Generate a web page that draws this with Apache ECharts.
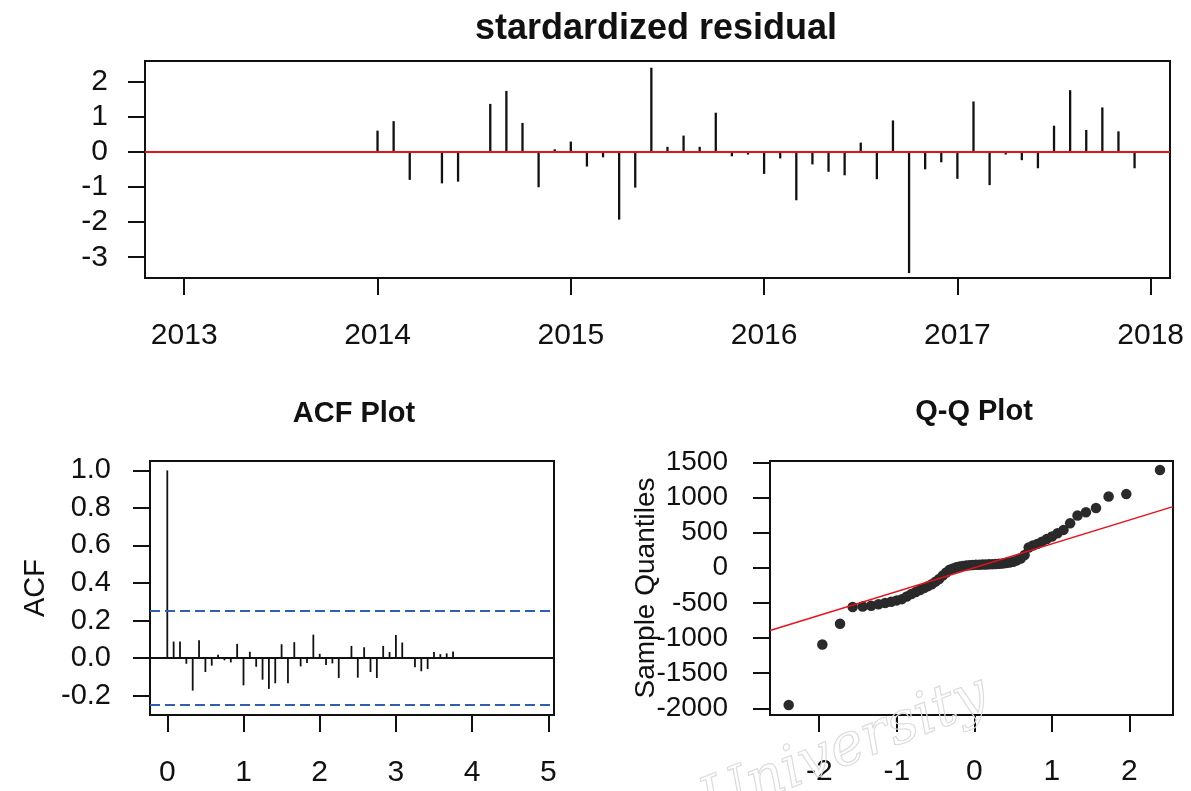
<!DOCTYPE html>
<html>
<head>
<meta charset="utf-8">
<title>Residual diagnostics</title>
<script src="https://cdn.jsdelivr.net/npm/echarts@6/dist/echarts.min.js"></script>
<style>
  html, body { margin: 0; padding: 0; background: #ffffff; }
  #chart { width: 1191px; height: 791px; }
</style>
</head>
<body>
<div id="chart"></div>
<script>
// ---- Standardized residuals, monthly, Jan 2014 - Dec 2017 ----
const residualMonths = [
  '2014-01','2014-02','2014-03','2014-04','2014-05','2014-06','2014-07','2014-08','2014-09','2014-10','2014-11','2014-12',
  '2015-01','2015-02','2015-03','2015-04','2015-05','2015-06','2015-07','2015-08','2015-09','2015-10','2015-11','2015-12',
  '2016-01','2016-02','2016-03','2016-04','2016-05','2016-06','2016-07','2016-08','2016-09','2016-10','2016-11','2016-12',
  '2017-01','2017-02','2017-03','2017-04','2017-05','2017-06','2017-07','2017-08','2017-09','2017-10','2017-11','2017-12'
];
const residualValues = [
  0.60, 0.87, -0.80, 0.00, -0.90, -0.85, 0.00, 1.36, 1.73, 0.82, -1.01, 0.07,
  0.29, -0.42, -0.16, -1.93, -1.02, 2.39, 0.14, 0.46, 0.14, 1.11, -0.13, -0.08,
  -0.63, -0.19, -1.38, -0.36, -0.57, -0.67, 0.26, -0.78, 0.89, -3.45, -0.50, -0.30,
  -0.77, 1.43, -0.95, -0.08, -0.24, -0.47, 0.74, 1.75, 0.62, 1.26, 0.58, -0.47
];
const yearTicks = [2013, 2014, 2015, 2016, 2017, 2018];
const residualTicks = [-3, -2, -1, 0, 1, 2];

// ---- Autocorrelation of the residuals, lags 0..45 months ----
const acfValues = [
  1.000, 0.088, 0.088, -0.030, -0.173, 0.095, -0.074, -0.040, 0.018, -0.012, -0.023, 0.076,
  -0.145, 0.034, -0.046, -0.115, -0.164, -0.134, 0.074, -0.134, 0.085, -0.044, -0.026, 0.125,
  0.023, -0.037, -0.028, -0.106, 0.000, 0.065, -0.104, 0.058, -0.074, -0.106, 0.065, 0.033,
  0.123, 0.083, 0.000, -0.048, -0.070, -0.058, 0.032, 0.021, 0.025, 0.035
];
const acfBound = 0.253;
const acfXTicks = [0, 1, 2, 3, 4, 5];
const acfYTicks = [-0.2, 0.0, 0.2, 0.4, 0.6, 0.8, 1.0];

// ---- Normal Q-Q: ordered sample quantiles ----
const sampleQuantiles = [
  -1953, -1091, -797, -560, -552, -540, -519, -501, -484, -465,
  -447, -410, -373, -346, -317, -290, -262, -235, -198, -161,
  -112, -67, -28, -11, 5, 18, 26, 32, 36, 39,
  41, 43, 45, 47, 49, 51, 53, 56, 60, 66,
  74, 86, 104, 130, 180, 288, 316, 339, 371, 408,
  445, 491, 538, 632, 744, 790, 849, 1013, 1047, 1391
];
const qqLineEnds = [[-2.635, -892], [2.562, 869]];
const qqXTicks = [-2, -1, 0, 1, 2];
const qqYTicks = [-2000, -1500, -1000, -500, 0, 500, 1000, 1500];

// ---- helpers ----
const FONT = '"Liberation Sans", Arimo, Arial, sans-serif';
const INK = '#111111';

// inverse standard normal CDF (Acklam's rational approximation)
function qnorm(p) {
  const a = [-39.69683028665376, 220.9460984245205, -275.9285104469687, 138.3577518672690, -30.66479806614716, 2.506628277459239];
  const b = [-54.47609879822406, 161.5858368580409, -155.6989798598866, 66.80131188771972, -13.28068155288572];
  const c = [-0.007784894002430293, -0.3223964580411365, -2.400758277161838, -2.549732539343734, 4.374664141464968, 2.938163982698783];
  const d = [0.007784695709041462, 0.3224671290700398, 2.445134137142996, 3.754408661907416];
  const pl = 0.02425;
  let q, r;
  if (p < pl) {
    q = Math.sqrt(-2 * Math.log(p));
    return (((((c[0]*q+c[1])*q+c[2])*q+c[3])*q+c[4])*q+c[5]) / ((((d[0]*q+d[1])*q+d[2])*q+d[3])*q+1);
  }
  if (p > 1 - pl) {
    q = Math.sqrt(-2 * Math.log(1 - p));
    return -(((((c[0]*q+c[1])*q+c[2])*q+c[3])*q+c[4])*q+c[5]) / ((((d[0]*q+d[1])*q+d[2])*q+d[3])*q+1);
  }
  q = p - 0.5; r = q * q;
  return (((((a[0]*r+a[1])*r+a[2])*r+a[3])*r+a[4])*r+a[5])*q / (((((b[0]*r+b[1])*r+b[2])*r+b[3])*r+b[4])*r+1);
}

// theoretical quantiles, plotting positions (i - 0.5) / n
const n = sampleQuantiles.length;
const qqPoints = sampleQuantiles.map((v, i) => [qnorm((i + 0.5) / n), v]);

const residualPoints = residualMonths.map((m, i) => {
  const [yy, mm] = m.split('-').map(Number);
  return [yy + (mm - 1) / 12, residualValues[i]];
});
const acfPoints = acfValues.map((v, lag) => [lag / 12, v]);

// vertical stem from 0 to the value
function stem(width) {
  return function (params, api) {
    const x = api.value(0), y = api.value(1);
    const p0 = api.coord([x, 0]);
    const p1 = api.coord([x, y]);
    return {
      type: 'line',
      shape: { x1: p0[0], y1: p0[1], x2: p1[0], y2: p1[1] },
      style: { stroke: INK, lineWidth: width }
    };
  };
}

function axis(gridIndex, min, max, ticks, fmt, labelSize, margin, extra) {
  return Object.assign({
    type: 'value',
    gridIndex: gridIndex,
    min: min,
    max: max,
    axisLine: { show: true, onZero: false, lineStyle: { color: INK, width: 2 } },
    axisTick: { show: true, inside: false, length: 17, customValues: ticks, lineStyle: { color: INK, width: 2 } },
    axisLabel: {
      customValues: ticks, formatter: fmt, fontSize: labelSize, margin: margin,
      color: INK, fontFamily: FONT, showMinLabel: true, showMaxLabel: true
    },
    splitLine: { show: false }
  }, extra || {});
}

const plain = v => String(v);
const oneDec = v => v.toFixed(1);

const boxStyle = { show: true, borderColor: INK, borderWidth: 2, backgroundColor: 'transparent' };

const option = {
  backgroundColor: '#ffffff',
  animation: false,
  title: [
    { text: 'stardardized residual', left: 651, top: 6, textAlign: 'center',
      textStyle: { fontSize: 36, fontWeight: 'bold', color: INK, fontFamily: FONT } },
    { text: 'ACF Plot', left: 349, top: 394, textAlign: 'center',
      textStyle: { fontSize: 29, fontWeight: 'bold', color: INK, fontFamily: FONT } },
    { text: 'Q-Q Plot', left: 969, top: 392, textAlign: 'center',
      textStyle: { fontSize: 29, fontWeight: 'bold', color: INK, fontFamily: FONT } }
  ],
  grid: [
    Object.assign({ left: 145, right: 21, top: 61, height: 217 }, boxStyle),
    Object.assign({ left: 150, width: 404, top: 461, height: 254 }, boxStyle),
    Object.assign({ left: 770, width: 403, top: 461, height: 254 }, boxStyle)
  ],
  xAxis: [
    axis(0, 2012.797, 2018.100, yearTicks, plain, 30, 43),
    axis(1, -0.227, 5.075, acfXTicks, plain, 30, 43),
    axis(2, -2.635, 2.562, qqXTicks, plain, 30, 42)
  ],
  yAxis: [
    axis(0, -3.59, 2.58, residualTicks, plain, 30, 37),
    axis(1, -0.303, 1.05, acfYTicks, oneDec, 29, 39, {
      name: 'ACF', nameLocation: 'middle', nameGap: 100, nameMoveOverlap: false,
      nameTextStyle: { fontSize: 29, color: INK, fontFamily: FONT }
    }),
    axis(2, -2095, 1518, qqYTicks, plain, 28, 42, {
      name: 'Sample Quantiles', nameLocation: 'middle', nameGap: 110, nameMoveOverlap: false,
      nameTextStyle: { fontSize: 28, color: INK, fontFamily: FONT }
    })
  ],
  series: [
    {
      name: 'residual', type: 'custom', xAxisIndex: 0, yAxisIndex: 0,
      data: residualPoints, renderItem: stem(2.3), clip: true, silent: true,
      markLine: {
        silent: true, symbol: ['none', 'none'], label: { show: false },
        lineStyle: { color: '#e8121c', width: 2.2, type: 'solid' },
        data: [{ yAxis: 0 }]
      }
    },
    {
      name: 'acf', type: 'custom', xAxisIndex: 1, yAxisIndex: 1,
      data: acfPoints, renderItem: stem(1.8), clip: true, silent: true,
      markLine: {
        silent: true, symbol: ['none', 'none'], label: { show: false },
        data: [
          { yAxis: 0, lineStyle: { color: INK, width: 2, type: 'solid' } },
          { yAxis: acfBound, lineStyle: { color: '#2f5fb3', width: 2.2, type: [10, 5] } },
          { yAxis: -acfBound, lineStyle: { color: '#2f5fb3', width: 2.2, type: [10, 5] } }
        ]
      }
    },
    {
      name: 'qq line', type: 'line', xAxisIndex: 2, yAxisIndex: 2,
      data: qqLineEnds, showSymbol: false, silent: true, z: 3,
      lineStyle: { color: '#e8121c', width: 1.5 }
    },
    {
      name: 'sample', type: 'scatter', xAxisIndex: 2, yAxisIndex: 2,
      data: qqPoints, symbol: 'circle', symbolSize: 10.5, silent: true, z: 2,
      itemStyle: { color: '#2a2a2a', opacity: 1 }
    }
  ],
  graphic: [
    {
      type: 'text', x: 845, y: 750, rotation: 0.38, z: 100, silent: true,
      style: {
        text: 'University', font: 'italic 58px "DejaVu Serif"',
        align: 'center', verticalAlign: 'middle',
        fill: 'rgba(0,0,0,0)', stroke: '#dcdcdc', lineWidth: 1.2
      }
    }
  ]
};

const chart = echarts.init(document.getElementById('chart'), null, { renderer: 'canvas' });
chart.setOption(option);
</script>
</body>
</html>
